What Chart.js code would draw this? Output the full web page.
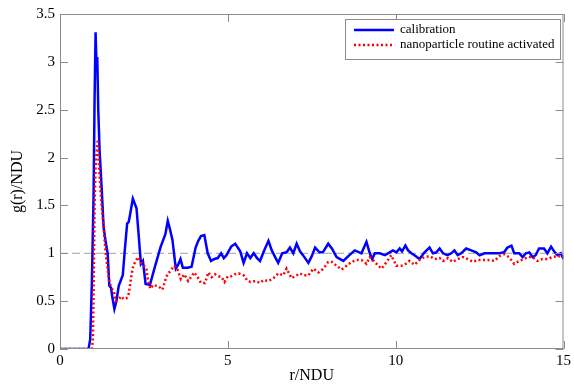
<!DOCTYPE html>
<html>
<head>
<meta charset="utf-8">
<script src="https://cdn.jsdelivr.net/npm/chart.js@4"></script>
<style>
  html, body { margin: 0; padding: 0; background: #fff; }
  #wrap { width: 574px; height: 386px; }
</style>
</head>
<body>
<div id="wrap"><canvas id="rdfChart"></canvas></div>
<script>
// r values and g(r)
const calibR = [0, 0.85, 0.9, 0.95, 1.0, 1.03, 1.06, 1.09, 1.11, 1.14, 1.18, 1.24, 1.3, 1.36, 1.42, 1.47, 1.52, 1.56, 1.62, 1.68,
  1.75, 1.87, 1.93, 2.0, 2.05, 2.17, 2.28, 2.35, 2.41, 2.47, 2.55, 2.68, 2.82, 3.0, 3.14, 3.21, 3.27, 3.35, 3.45, 3.52,
  3.59, 3.66, 3.8, 3.92, 4.04, 4.12, 4.2, 4.3, 4.4, 4.5, 4.6, 4.7, 4.8, 4.88, 4.96, 5.1, 5.22, 5.37, 5.47, 5.57,
  5.67, 5.77, 5.87, 5.96, 6.06, 6.21, 6.31, 6.41, 6.5, 6.62, 6.75, 6.85, 6.95, 7.05, 7.15, 7.28, 7.4, 7.5, 7.6, 7.73,
  7.83, 7.99, 8.1, 8.24, 8.44, 8.59, 8.78, 8.98, 9.13, 9.23, 9.3, 9.38, 9.53, 9.68, 9.82, 9.92, 10.02, 10.12, 10.19, 10.29,
  10.37, 10.47, 10.56, 10.71, 10.86, 11.01, 11.11, 11.21, 11.31, 11.41, 11.54, 11.66, 11.75, 11.85, 11.95, 12.1, 12.25, 12.4, 12.5, 12.65,
  12.79, 12.94, 13.09, 13.23, 13.33, 13.45, 13.53, 13.68, 13.78, 13.88, 13.98, 14.08, 14.17, 14.27, 14.42, 14.52, 14.63, 14.72, 14.82, 14.92, 15.0];
const calibG = [0, 0, 0.1, 0.7, 1.6, 2.6, 3.31, 2.93, 3.05, 2.5, 2.07, 1.69, 1.27, 1.12, 1.0, 0.66, 0.64, 0.54, 0.42, 0.5,
  0.66, 0.77, 1.03, 1.31, 1.33, 1.57, 1.47, 1.16, 0.89, 0.92, 0.68, 0.67, 0.85, 1.07, 1.2, 1.34, 1.26, 1.14, 0.84, 0.88,
  0.94, 0.85, 0.85, 0.86, 1.06, 1.13, 1.18, 1.19, 1.0, 0.92, 0.94, 0.95, 1.0, 0.95, 0.98, 1.07, 1.1, 1.02, 0.9, 1.0,
  0.95, 1.0, 0.95, 0.92, 1.01, 1.13, 1.03, 0.96, 0.9, 1.0, 1.01, 1.06, 1.0, 1.1, 1.02, 0.96, 0.9, 0.97, 1.06, 1.01,
  1.01, 1.1, 1.05, 0.96, 0.92, 0.97, 1.03, 1.0, 1.12, 1.0, 0.94, 1.0, 1.0, 0.98, 1.01, 1.03, 1.01, 1.05, 1.02, 1.08,
  1.03, 1.0, 0.98, 0.94, 1.01, 1.06, 1.0, 1.01, 1.05, 1.0, 0.98, 1.0, 1.03, 0.98, 1.0, 1.05, 1.03, 1.01, 0.98, 1.0,
  1.0, 1.0, 1.0, 1.01, 1.06, 1.08, 1.0, 1.0, 0.96, 1.0, 1.01, 0.96, 0.98, 1.05, 1.05, 1.0, 1.07, 1.02, 0.98, 1.0, 0.94];

const nanoR = [0, 0.95, 0.98, 1.0, 1.03, 1.06, 1.1, 1.13, 1.18, 1.24, 1.3, 1.36, 1.46, 1.52, 1.58, 1.62, 1.66, 1.75, 1.82, 1.9,
  1.98, 2.05, 2.12, 2.17, 2.25, 2.33, 2.42, 2.5, 2.57, 2.62, 2.69, 2.78, 2.95, 3.05, 3.12, 3.2, 3.3, 3.4, 3.5, 3.6,
  3.7, 3.82, 3.92, 4.0, 4.1, 4.2, 4.32, 4.42, 4.52, 4.62, 4.72, 4.82, 4.9, 5.0, 5.1, 5.2, 5.32, 5.47, 5.57, 5.67,
  5.82, 5.96, 6.06, 6.21, 6.36, 6.5, 6.65, 6.75, 6.9, 7.0, 7.15, 7.25, 7.4, 7.55, 7.7, 7.85, 7.99, 8.1, 8.24, 8.39,
  8.54, 8.69, 8.83, 8.98, 9.13, 9.23, 9.38, 9.48, 9.58, 9.73, 9.87, 10.02, 10.17, 10.27, 10.41, 10.56, 10.71, 10.86, 11.01, 11.16,
  11.31, 11.41, 11.56, 11.7, 11.85, 12.0, 12.15, 12.3, 12.45, 12.6, 12.75, 12.94, 13.09, 13.23, 13.38, 13.53, 13.68, 13.83, 13.93, 14.08,
  14.22, 14.37, 14.52, 14.67, 14.82, 15.0];
const nanoG = [0, 0, 0.1, 0.6, 1.5, 1.9, 2.1, 2.19, 1.8, 1.5, 1.27, 1.0, 0.72, 0.65, 0.61, 0.58, 0.5, 0.52, 0.55, 0.52,
  0.53, 0.58, 0.75, 0.85, 0.92, 0.96, 0.9, 0.87, 0.85, 0.72, 0.63, 0.67, 0.65, 0.62, 0.7, 0.78, 0.82, 0.87, 0.83, 0.73,
  0.78, 0.71, 0.76, 0.8, 0.75, 0.69, 0.69, 0.8, 0.75, 0.78, 0.76, 0.75, 0.7, 0.76, 0.76, 0.78, 0.79, 0.77, 0.72, 0.7,
  0.71, 0.69, 0.72, 0.71, 0.74, 0.79, 0.77, 0.84, 0.74, 0.76, 0.79, 0.77, 0.77, 0.84, 0.8, 0.84, 0.91, 0.91, 0.87, 0.83,
  0.87, 0.91, 0.93, 0.93, 0.89, 0.96, 0.91, 0.87, 0.84, 0.91, 0.98, 0.87, 0.87, 0.88, 0.92, 0.88, 0.93, 0.96, 0.97, 0.94,
  0.95, 0.92, 0.95, 0.91, 0.94, 0.96, 0.94, 0.91, 0.93, 0.93, 0.93, 0.92, 0.97, 0.99, 0.96, 0.89, 0.92, 0.94, 0.96, 0.96,
  0.92, 0.94, 0.94, 0.96, 0.97, 0.97];

const refR = [0, 15];
const refG = [1, 1];

const xTicks = [0, 5, 10, 15];
const yTicks = [0, 0.5, 1, 1.5, 2, 2.5, 3, 3.5];
const seriesNames = ['calibration', 'nanoparticle routine activated'];

const toPoints = (xs, ys) => xs.map((x, i) => ({ x: x, y: ys[i] }));
const SERIF = '"Liberation Serif", "DejaVu Serif", serif';

// frame, inward ticks on all four sides, and the boxed legend
const framePlugin = {
    id: 'frame',
    afterDatasetsDraw(chart) {
        const { ctx, chartArea: a, scales: { x, y } } = chart;
        ctx.save();
        ctx.strokeStyle = '#8c8c8c';
        ctx.lineWidth = 1;
        ctx.strokeRect(a.left + 0.5, a.top + 0.5, a.right - a.left - 1, a.bottom - a.top - 1);
        ctx.beginPath();
        xTicks.forEach(v => {
            const px = Math.round(x.getPixelForValue(v)) + 0.5;
            ctx.moveTo(px, a.bottom); ctx.lineTo(px, a.bottom - 8);
            ctx.moveTo(px, a.top); ctx.lineTo(px, a.top + 8);
        });
        yTicks.forEach(v => {
            const py = Math.round(y.getPixelForValue(v)) + 0.5;
            ctx.moveTo(a.left, py); ctx.lineTo(a.left + 8, py);
            ctx.moveTo(a.right, py); ctx.lineTo(a.right - 8, py);
        });
        ctx.stroke();

        // legend box
        const bx = 345, by = 19, bw = 215, bh = 40;
        ctx.fillStyle = '#fff';
        ctx.fillRect(bx, by, bw, bh);
        ctx.strokeStyle = '#8c8c8c';
        ctx.strokeRect(bx + 0.5, by + 0.5, bw, bh);
        ctx.font = '13px ' + SERIF;
        ctx.textBaseline = 'middle';
        chart.data.datasets.slice(0, 2).forEach((ds, i) => {
            const ly = by + 11 + i * 15;
            ctx.strokeStyle = ds.borderColor;
            ctx.lineWidth = ds.borderWidth;
            ctx.setLineDash(ds.borderDash || []);
            ctx.beginPath();
            ctx.moveTo(354, ly); ctx.lineTo(394, ly);
            ctx.stroke();
            ctx.setLineDash([]);
            ctx.fillStyle = '#000';
            ctx.fillText(ds.label, 400, ly);
        });
        ctx.restore();
    }
};

new Chart(document.getElementById('rdfChart'), {
    type: 'line',
    data: {
        datasets: [{
            label: seriesNames[0],
            data: toPoints(calibR, calibG),
            borderColor: '#0000ff',
            borderWidth: 2.5,
            pointRadius: 0,
            tension: 0,
            order: 1
        }, {
            label: seriesNames[1],
            data: toPoints(nanoR, nanoG),
            borderColor: '#ff0000',
            borderWidth: 2.5,
            borderDash: [2, 2.5],
            pointRadius: 0,
            tension: 0,
            order: 0
        }, {
            label: 'g = 1',
            data: toPoints(refR, refG),
            borderColor: '#a0a0a0',
            borderWidth: 1,
            borderDash: [8, 4],
            pointRadius: 0,
            order: 2
        }]
    },
    options: {
        responsive: true,
        maintainAspectRatio: false,
        animation: false,
        layout: { padding: { top: 12, right: 8, left: 0, bottom: 0 } },
        scales: {
            x: {
                type: 'linear',
                min: 0,
                max: 15,
                afterBuildTicks: s => { s.ticks = xTicks.map(v => ({ value: v })); },
                afterFit: s => { s.height = 37; },
                grid: { display: false, drawTicks: false },
                border: { display: false },
                ticks: { color: '#000', padding: 3, maxRotation: 0, callback: v => String(v), font: { family: SERIF, size: 15 } },
                title: { display: true, text: 'r/NDU', color: '#000', padding: { top: 0, bottom: 1 }, font: { family: SERIF, size: 16 } }
            },
            y: {
                type: 'linear',
                min: 0,
                max: 3.5,
                afterBuildTicks: s => { s.ticks = yTicks.map(v => ({ value: v })); },
                afterFit: s => { s.width = 60; },
                grid: { display: false, drawTicks: false },
                border: { display: false },
                ticks: { color: '#000', padding: 5, callback: v => String(v), font: { family: SERIF, size: 15 } },
                title: { display: true, text: 'g(r)/NDU', color: '#000', padding: { top: 8, bottom: 0 }, font: { family: SERIF, size: 16 } }
            }
        },
        plugins: {
            legend: { display: false },
            tooltip: { enabled: false }
        }
    },
    plugins: [framePlugin]
});
</script>
</body>
</html>
